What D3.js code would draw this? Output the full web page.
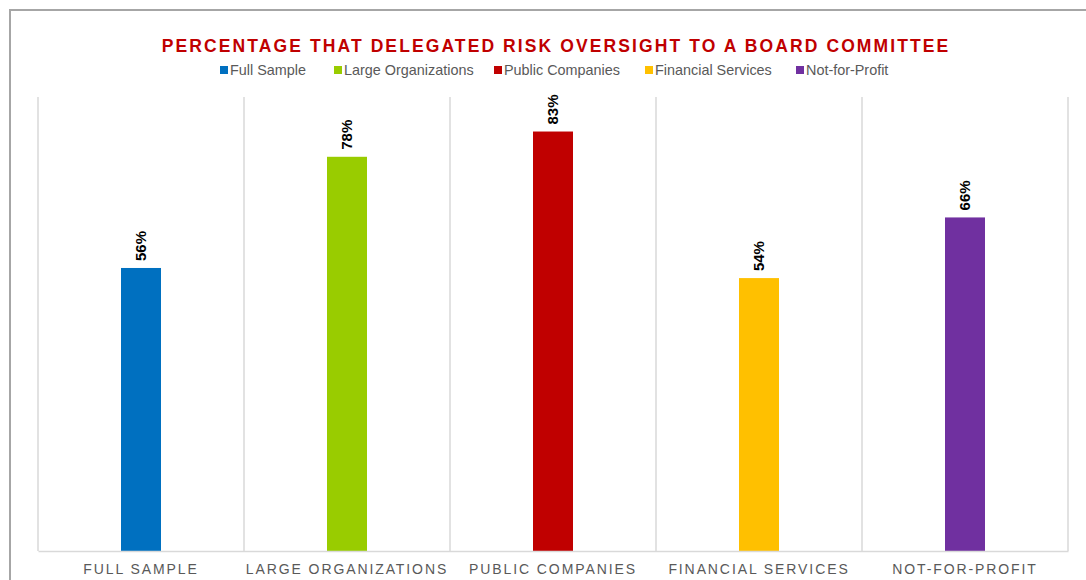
<!DOCTYPE html>
<html>
<head>
<meta charset="utf-8">
<script src="https://cdn.jsdelivr.net/npm/d3@7"></script>
<style>
  body { margin: 0; background: #fff; }
  svg { display: block; font-family: "Liberation Sans", Arial, sans-serif; }
</style>
</head>
<body>
<div id="chart"></div>
<script>
var categories = ["Full Sample", "Large Organizations", "Public Companies", "Financial Services", "Not-for-Profit"];
var values = [56, 78, 83, 54, 66];
var colors = ["#0070c0", "#99cc00", "#c00000", "#ffc000", "#7030a0"];

var W = 1086, H = 580;
var margin = {top: 97, right: 18, bottom: 29, left: 38},
    width = W - margin.left - margin.right,
    height = H - margin.top - margin.bottom;

var svg = d3.select("#chart")
  .append("svg")
    .attr("width", W)
    .attr("height", H);

// outer frame (runs off the right/bottom edge like the source)
svg.append("rect")
    .attr("x", 10).attr("y", 10)
    .attr("width", 1100).attr("height", 620)
    .attr("fill", "none")
    .attr("stroke", "#a6a6a6")
    .attr("stroke-width", 2);

svg.append("text")
    .attr("x", 556).attr("y", 52)
    .attr("text-anchor", "middle")
    .attr("fill", "#c00000")
    .style("font-size", "17.5px")
    .style("font-weight", "bold")
    .style("letter-spacing", "2.1px")
    .text("PERCENTAGE THAT DELEGATED RISK OVERSIGHT TO A BOARD COMMITTEE");

// legend
var legendX = [220, 334, 494, 645, 796];
var legend = svg.append("g");
categories.forEach(function(c, i) {
  var g = legend.append("g").attr("transform", "translate(" + legendX[i] + ",66)");
  g.append("rect").attr("width", 8).attr("height", 8).attr("fill", colors[i]);
  g.append("text")
      .attr("x", 10).attr("y", 9)
      .attr("fill", "#595959")
      .style("font-size", "14.4px")
      .text(c);
});

var g = svg.append("g")
    .attr("transform", "translate(" + margin.left + "," + margin.top + ")");

var x = d3.scaleBand()
    .domain(categories)
    .range([0, width])
    .paddingInner(0).paddingOuter(0);

// 100% maps 505px above the baseline
var y = d3.scaleLinear()
    .domain([0, 100])
    .range([height, height - 505.4]);

// vertical category dividers
var edges = categories.map(function(c) { return x(c); }).concat([width]);
g.selectAll("line.grid")
  .data(edges)
  .enter().append("line")
    .attr("class", "grid")
    .attr("x1", function(d) { return d; })
    .attr("x2", function(d) { return d; })
    .attr("y1", 0)
    .attr("y2", height)
    .attr("stroke", "#d9d9d9")
    .attr("stroke-width", 1.5);

var barW = 40;
g.selectAll("rect.bar")
  .data(values)
  .enter().append("rect")
    .attr("class", "bar")
    .attr("x", function(d, i) { return x(categories[i]) + x.bandwidth() / 2 - barW / 2; })
    .attr("y", function(d) { return y(d); })
    .attr("width", barW)
    .attr("height", function(d) { return height - y(d); })
    .attr("fill", function(d, i) { return colors[i]; });

// baseline axis
var xAxis = g.append("g")
    .attr("transform", "translate(0," + height + ")")
    .call(d3.axisBottom(x).tickSize(0).tickPadding(13.5).tickFormat(function(d) { return d.toUpperCase(); }));
xAxis.select(".domain").attr("stroke", "#d9d9d9").attr("stroke-width", 1.5);
xAxis.selectAll("text")
    .attr("fill", "#595959")
    .style("font-size", "14px")
    .style("letter-spacing", "1.9px")
    .style("font-family", "Liberation Sans, Arial, sans-serif");

// value labels, rotated
g.selectAll("text.val")
  .data(values)
  .enter().append("text")
    .attr("class", "val")
    .attr("transform", function(d, i) {
      return "translate(" + (x(categories[i]) + x.bandwidth() / 2 + 5) + "," + (y(d) - 7) + ") rotate(-90)";
    })
    .attr("fill", "#000")
    .style("font-size", "15px")
    .style("font-weight", "bold")
    .text(function(d) { return d + "%"; });
</script>
</body>
</html>
